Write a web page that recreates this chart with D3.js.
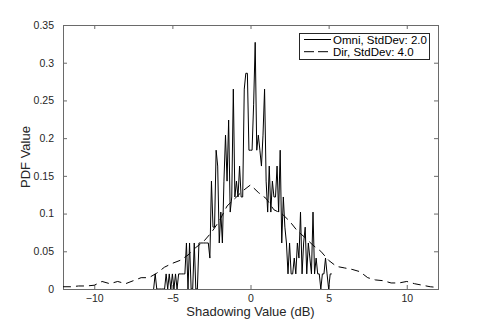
<!DOCTYPE html>
<html>
<head>
<meta charset="utf-8">
<script src="https://cdn.jsdelivr.net/npm/d3@7"></script>
<style>
  html, body { margin: 0; padding: 0; background: #fff; }
  svg { display: block; font-family: "Liberation Sans", Arial, Helvetica, sans-serif; }
  .axis path, .axis line { stroke: #6a6a6a; }
  .axis text { fill: #262626; font-size: 10.5px; }
</style>
</head>
<body>
<div id="chart"></div>
<script>
// Omni histogram (StdDev 2.0)
const omniX = [-6.2, -6.1, -6.0, -5.9, -5.8, -5.7, -5.6, -5.5, -5.4, -5.3, -5.2, -5.1, -5.0, -4.9, -4.8, -4.7,
  -4.6, -4.5, -4.4, -4.3, -4.2, -4.1, -4.0, -3.9, -3.8, -3.7, -3.6, -3.5, -3.4, -3.3, -3.2, -3.1, -3.0, -2.9,
  -2.8, -2.7, -2.6, -2.5, -2.4, -2.3, -2.2, -2.1, -2.0, -1.9, -1.8, -1.7, -1.6, -1.5, -1.4, -1.3, -1.2, -1.1,
  -1.0, -0.9, -0.8, -0.7, -0.6, -0.5, -0.4, -0.3, -0.2, -0.1, 0.0, 0.1, 0.2, 0.3, 0.4, 0.5, 0.6, 0.7, 0.8, 0.9,
  1.0, 1.1, 1.2, 1.3, 1.4, 1.5, 1.6, 1.7, 1.8, 1.9, 2.0, 2.1, 2.2, 2.3, 2.4, 2.5, 2.6, 2.7, 2.8, 2.9, 3.0, 3.1,
  3.2, 3.3, 3.4, 3.5, 3.6, 3.7, 3.8, 3.9, 4.0, 4.1, 4.2, 4.3, 4.4, 4.5, 4.6, 4.7, 4.8, 4.9, 5.0, 5.1, 5.2];
const omniY = [0, 0.02, 0, 0, 0, 0, 0, 0, 0.02, 0, 0.02, 0, 0.02, 0, 0.02, 0,
  0.02, 0.02, 0.02, 0.02, 0.02, 0.061, 0, 0.061, 0, 0, 0.061, 0, 0, 0.061, 0.061, 0.061, 0.061, 0.061,
  0.061, 0.061, 0.041, 0.143, 0.082, 0.082, 0.184, 0.163, 0.061, 0.102, 0.061, 0.143, 0.204, 0.143, 0.224, 0.102, 0.122, 0.265,
  0.122, 0.143, 0.122, 0.163, 0.122, 0.122, 0.265, 0.286, 0.286, 0.184, 0.184, 0.184, 0.245, 0.327, 0.184, 0.204, 0.184, 0.163, 0.204, 0.265,
  0.143, 0.102, 0.163, 0.102, 0.143, 0.122, 0.122, 0.163, 0.102, 0.184, 0.061, 0.122, 0.082, 0.061, 0.02, 0.061, 0.02, 0.02, 0.041, 0.02, 0.061, 0.041,
  0.102, 0.02, 0.061, 0.082, 0.02, 0.061, 0.041, 0.02, 0.102, 0.02, 0.041, 0.02, 0.02, 0, 0.02, 0.02, 0.041, 0.02, 0, 0.02, 0.02];

// Dir histogram (StdDev 4.0)
const dirX = [-12, -11.5, -11, -10.5, -10, -9.5, -9, -8.5, -8, -7.5, -7, -6.5, -6, -5.5, -5, -4.5, -4,
  -3.5, -3, -2.5, -2, -1.5, -1, -0.5, 0, 0.5, 1, 1.5, 2, 2.5, 3, 3.5, 4, 4.5, 5, 5.5, 6, 6.5, 7, 7.5, 8,
  8.5, 9, 9.5, 10, 10.5, 11, 11.5, 12];
const dirY = [0.003, 0.003, 0.004, 0.004, 0.005, 0.010, 0.007, 0.010, 0.007, 0.011, 0.015, 0.015, 0.021,
  0.029, 0.034, 0.038, 0.045, 0.055, 0.063, 0.075, 0.090, 0.110, 0.120, 0.130, 0.138, 0.128, 0.120, 0.105,
  0.100, 0.090, 0.077, 0.068, 0.058, 0.050, 0.038, 0.030, 0.028, 0.026, 0.023, 0.015, 0.012, 0.011, 0.008,
  0.008, 0.010, 0.007, 0.005, 0.003, 0.002];

const xTicks = [-10, -5, 0, 5, 10];
const yTicks = [0, 0.05, 0.1, 0.15, 0.2, 0.25, 0.3, 0.35];
const yTickLabels = ["0", "0.05", "0.1", "0.15", "0.2", "0.25", "0.3", "0.35"];
const seriesNames = ["Omni, StdDev: 2.0", "Dir, StdDev: 4.0"];

const width = 485, height = 325;
const margin = { top: 25, right: 47, bottom: 36, left: 63 };
const innerW = width - margin.left - margin.right;
const innerH = height - margin.top - margin.bottom;

const svg = d3.select("#chart").append("svg")
  .attr("width", width)
  .attr("height", height);

const g = svg.append("g").attr("transform", `translate(${margin.left},${margin.top})`);

const x = d3.scaleLinear().domain([-12, 12]).range([0, innerW]);
const y = d3.scaleLinear().domain([0, 0.35]).range([innerH, 0]);

// clip to axes box
svg.append("defs").append("clipPath").attr("id", "clip")
  .append("rect").attr("width", innerW).attr("height", innerH);

// axes (ticks inside, MATLAB style)
g.append("g").attr("class", "axis")
  .attr("transform", `translate(0,${innerH})`)
  .call(d3.axisBottom(x).tickValues(xTicks).tickSizeInner(-4).tickSizeOuter(0).tickPadding(6))
  .call(s => s.select(".domain").remove());
g.append("g").attr("class", "axis")
  .call(d3.axisTop(x).tickValues(xTicks).tickSizeInner(-4).tickSizeOuter(0).tickFormat(""))
  .call(s => s.select(".domain").remove());
g.append("g").attr("class", "axis")
  .call(d3.axisLeft(y).tickValues(yTicks).tickFormat((d, i) => yTickLabels[i])
    .tickSizeInner(-4).tickSizeOuter(0).tickPadding(9))
  .call(s => s.select(".domain").remove());
g.append("g").attr("class", "axis")
  .attr("transform", `translate(${innerW},0)`)
  .call(d3.axisRight(y).tickValues(yTicks).tickSizeInner(-4).tickSizeOuter(0).tickFormat(""))
  .call(s => s.select(".domain").remove());

// box
g.append("rect")
  .attr("width", innerW).attr("height", innerH)
  .attr("fill", "none").attr("stroke", "#6a6a6a").attr("stroke-width", 1)
  .attr("shape-rendering", "crispEdges");

const line = d3.line().x(d => x(d[0])).y(d => y(d[1]));

const plot = g.append("g").attr("clip-path", "url(#clip)");

plot.append("path")
  .datum(dirX.map((v, i) => [v, dirY[i]]))
  .attr("d", line)
  .attr("fill", "none")
  .attr("stroke", "#000")
  .attr("stroke-width", 1)
  .attr("stroke-dasharray", "8,5");

plot.append("path")
  .datum(omniX.map((v, i) => [v, omniY[i]]))
  .attr("d", line)
  .attr("fill", "none")
  .attr("stroke", "#000")
  .attr("stroke-width", 1);

// axis labels
svg.append("text")
  .attr("x", margin.left + innerW / 2)
  .attr("y", 316)
  .attr("text-anchor", "middle")
  .attr("fill", "#262626")
  .style("font-size", "13px")
  .text("Shadowing Value (dB)");

svg.append("text")
  .attr("transform", `translate(30,${margin.top + innerH / 2}) rotate(-90)`)
  .attr("text-anchor", "middle")
  .attr("fill", "#262626")
  .style("font-size", "13px")
  .text("PDF Value");

// legend
const legend = svg.append("g").attr("transform", "translate(299,33)");
legend.append("rect")
  .attr("width", 130).attr("height", 26)
  .attr("fill", "#fff").attr("stroke", "#262626").attr("stroke-width", 1)
  .attr("shape-rendering", "crispEdges");
seriesNames.forEach((name, i) => {
  const ly = 6.5 + i * 12.2;
  legend.append("line")
    .attr("x1", 5).attr("x2", 32)
    .attr("y1", ly).attr("y2", ly)
    .attr("stroke", "#000").attr("stroke-width", 1)
    .attr("stroke-dasharray", i === 1 ? "10,4" : null);
  legend.append("text")
    .attr("x", 34).attr("y", ly + 4)
    .attr("fill", "#000")
    .style("font-size", "11.5px")
    .text(name);
});
</script>
</body>
</html>
